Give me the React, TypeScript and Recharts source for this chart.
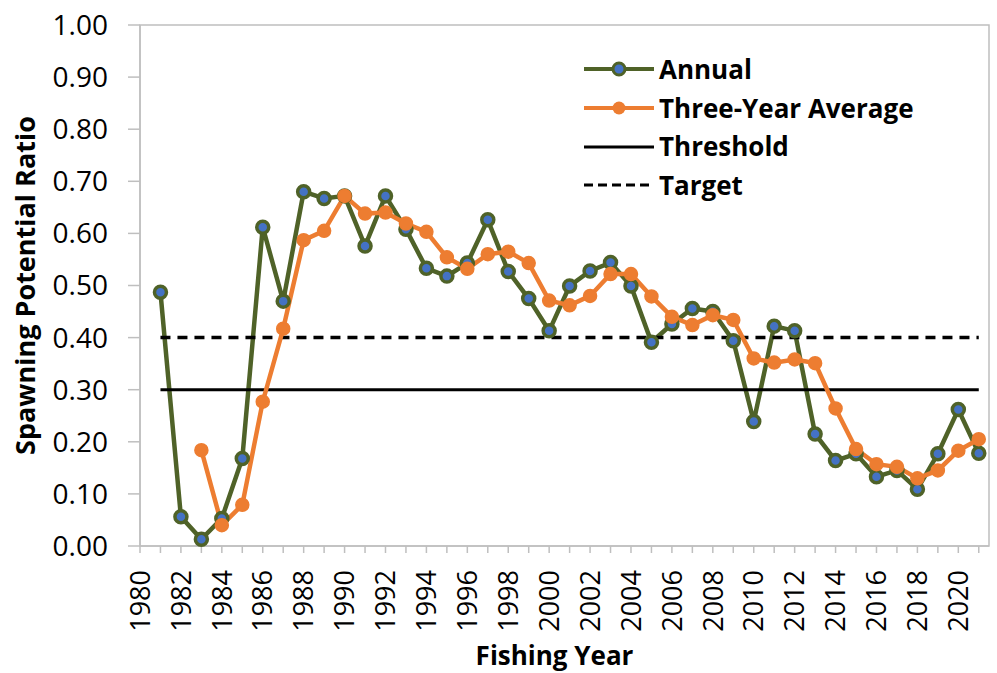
import React from "react"
import { ComposedChart, Line, XAxis, YAxis, ReferenceArea, Label } from "recharts"

// Fishing years (x axis) and tick marks
const YEARS = [
  1981, 1982, 1983, 1984, 1985, 1986, 1987, 1988, 1989, 1990,
  1991, 1992, 1993, 1994, 1995, 1996, 1997, 1998, 1999, 2000,
  2001, 2002, 2003, 2004, 2005, 2006, 2007, 2008, 2009, 2010,
  2011, 2012, 2013, 2014, 2015, 2016, 2017, 2018, 2019, 2020, 2021,
]
const X_TICKS = [1980, ...YEARS]
const Y_TICKS = [0, 0.1, 0.2, 0.3, 0.4, 0.5, 0.6, 0.7, 0.8, 0.9, 1.0]

// Spawning potential ratio
const ANNUAL = [
  0.487, 0.056, 0.013, 0.053, 0.168, 0.612, 0.47, 0.68, 0.667, 0.672,
  0.576, 0.672, 0.608, 0.533, 0.518, 0.543, 0.626, 0.527, 0.475, 0.413,
  0.499, 0.528, 0.544, 0.499, 0.391, 0.426, 0.456, 0.45, 0.394, 0.239,
  0.422, 0.413, 0.215, 0.164, 0.177, 0.133, 0.145, 0.109, 0.177, 0.262, 0.178,
]
const THREE_YEAR = [
  null, null, 0.184, 0.04, 0.079, 0.277, 0.417, 0.587, 0.605, 0.672,
  0.638, 0.64, 0.619, 0.603, 0.554, 0.532, 0.56, 0.565, 0.543, 0.471,
  0.462, 0.48, 0.522, 0.522, 0.479, 0.44, 0.424, 0.443, 0.434, 0.36,
  0.352, 0.358, 0.351, 0.264, 0.186, 0.157, 0.152, 0.13, 0.145, 0.183, 0.205,
]
const THRESHOLD = 0.3
const TARGET = 0.4

const GREEN = "#4f6228"
const BLUE = "#4472c4"
const ORANGE = "#ed7d31"
const GRAY = "#bfbfbf"
const FONT = "'Open Sans', sans-serif"

const data = YEARS.map((year, i) => ({
  year,
  annual: ANNUAL[i],
  threeYear: THREE_YEAR[i],
  threshold: THRESHOLD,
  target: TARGET,
}))

function YearTick(props: any) {
  const { x, y, payload } = props
  if (payload.value % 2 !== 0) return null
  return (
    <text
      x={x}
      y={y}
      transform={`rotate(-90, ${x}, ${y})`}
      textAnchor="end"
      dy="0.36em"
      fontSize={27}
      fontFamily={FONT}
      fill="#000"
    >
      {payload.value}
    </text>
  )
}

const legendItems = [
  { name: "Annual", color: GREEN, dot: "annual" },
  { name: "Three-Year Average", color: ORANGE, dot: "avg" },
  { name: "Threshold", color: "#000", dot: "" },
  { name: "Target", color: "#000", dot: "", dash: "9 5" },
]

function ChartLegend() {
  return (
    <div
      style={{
        position: "absolute",
        left: 583,
        top: 50,
        fontFamily: FONT,
        fontWeight: 700,
        fontSize: 26,
        lineHeight: "38.7px",
      }}
    >
      {legendItems.map((it) => (
        <div key={it.name} style={{ display: "flex", alignItems: "center", height: 38.7 }}>
          <svg width={72} height={20} style={{ marginRight: 4 }}>
            <line x1={1} y1={10} x2={71} y2={10} stroke={it.color} strokeWidth={it.dot ? 4 : 3} strokeDasharray={it.dash} />
            {it.dot === "annual" && <circle cx={36} cy={10} r={6} fill={BLUE} stroke={GREEN} strokeWidth={3} />}
            {it.dot === "avg" && <circle cx={36} cy={10} r={6.5} fill={ORANGE} />}
          </svg>
          <span>{it.name}</span>
        </div>
      ))}
    </div>
  )
}

export default function App() {
  return (
    <div style={{ position: "absolute", left: 0, top: 0, width: 997, height: 673, background: "#fff" }}>
      <ComposedChart width={997} height={673} data={data} margin={{ top: 25, right: 8, left: 0, bottom: 0 }}>
        <ReferenceArea x1={1980} x2={2021.5} y1={0} y2={1} fill="none" stroke={GRAY} strokeWidth={1.5} ifOverflow="visible" />
        <XAxis
          dataKey="year"
          type="number"
          domain={[1980, 2021.5]}
          ticks={X_TICKS}
          interval={0}
          allowDataOverflow
          height={127}
          tickSize={7}
          tickMargin={17}
          stroke={GRAY}
          strokeWidth={1.5}
          tick={<YearTick />}
        >
          <Label
            content={({ viewBox }: any) => (
              <text
                x={viewBox.x + viewBox.width / 2 - 10}
                y={665}
                textAnchor="middle"
                fontFamily={FONT}
                fontWeight={700}
                fontSize={26}
              >
                Fishing Year
              </text>
            )}
          />
        </XAxis>
        <YAxis
          type="number"
          domain={[0, 1]}
          ticks={Y_TICKS}
          interval={0}
          width={140}
          tickSize={12}
          tickMargin={20}
          stroke={GRAY}
          strokeWidth={1.5}
          tick={{ fill: "#000", fontSize: 28, fontFamily: FONT }}
          tickFormatter={(v: number) => v.toFixed(2)}
        >
          <Label
            content={({ viewBox }: any) => {
              const cx = viewBox.x + 25
              const cy = viewBox.y + viewBox.height / 2
              return (
                <text
                  x={cx}
                  y={cy}
                  transform={`rotate(-90, ${cx}, ${cy})`}
                  textAnchor="middle"
                  dy="0.36em"
                  fontFamily={FONT}
                  fontWeight={700}
                  fontSize={27}
                >
                  Spawning Potential Ratio
                </text>
              )
            }}
          />
        </YAxis>
        <Line
          dataKey="annual"
          stroke={GREEN}
          strokeWidth={4.5}
          dot={{ r: 6, fill: BLUE, stroke: GREEN, strokeWidth: 3.5 }}
          isAnimationActive={false}
        />
        <Line dataKey="threshold" stroke="#000" strokeWidth={3} dot={false} isAnimationActive={false} />
        <Line dataKey="target" stroke="#000" strokeWidth={3.5} strokeDasharray="10 7" dot={false} isAnimationActive={false} />
        <Line
          dataKey="threeYear"
          stroke={ORANGE}
          strokeWidth={4.5}
          dot={{ r: 6.5, fill: ORANGE, stroke: ORANGE, strokeWidth: 1.5 }}
          isAnimationActive={false}
        />
      </ComposedChart>
      <ChartLegend />
    </div>
  )
}
